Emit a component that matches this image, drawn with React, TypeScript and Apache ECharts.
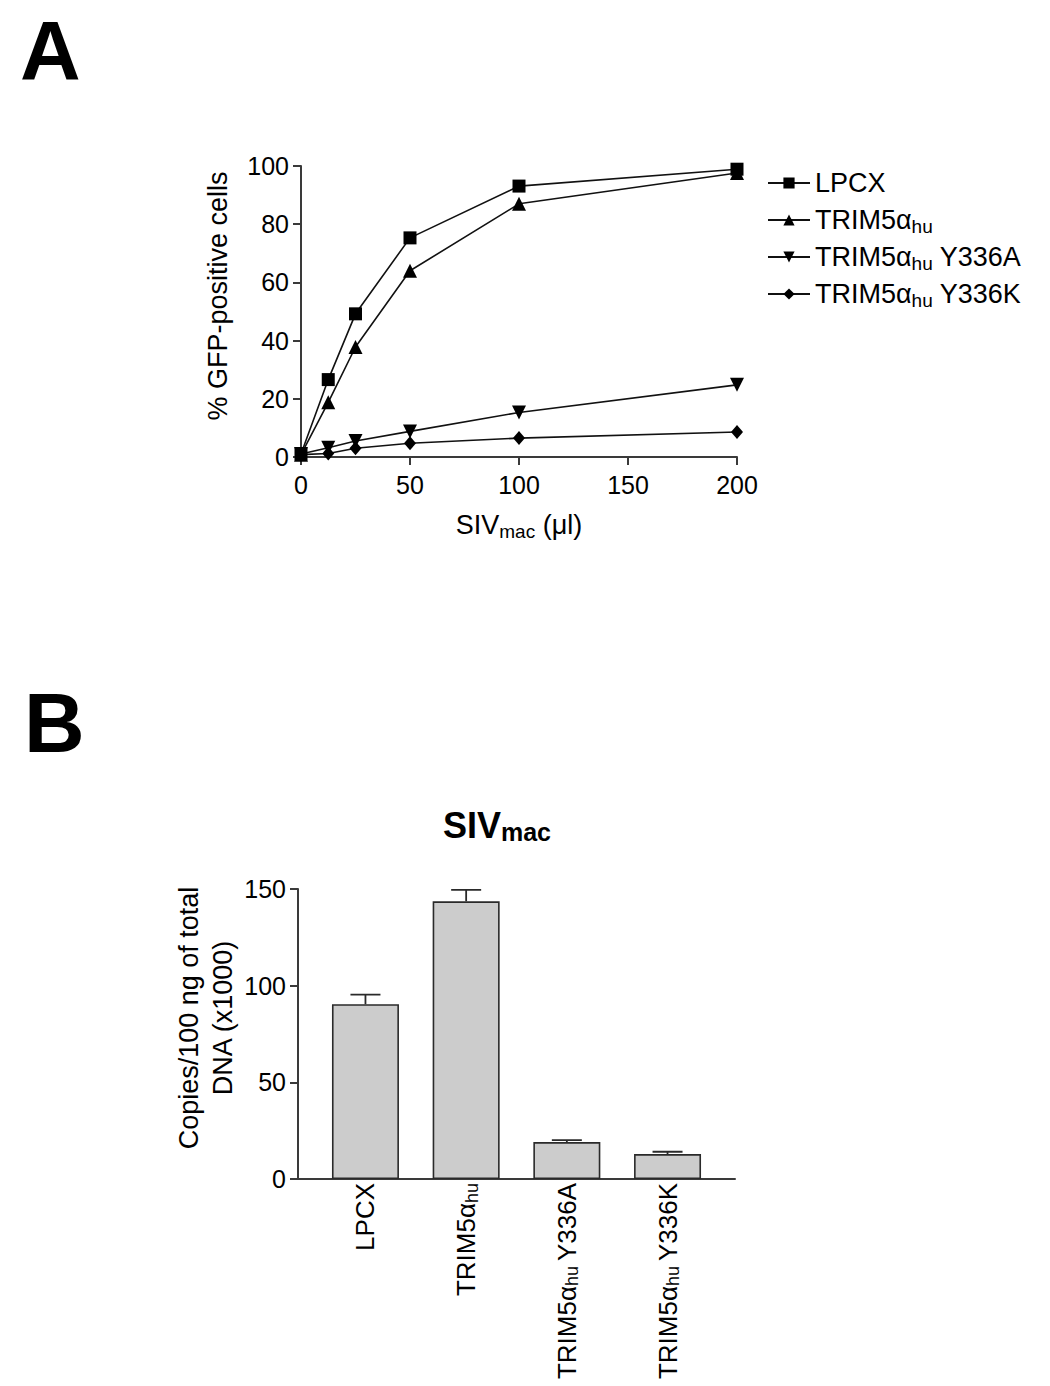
import React, { useEffect, useRef } from "react";
import * as echarts from "echarts";

const FONT = "Liberation Sans, Arial, Helvetica, sans-serif";

// Panel A: dose-response
const doseTicks = [0, 50, 100, 150, 200];
const seriesNames = ["LPCX", "TRIM5αhu", "TRIM5αhu Y336A", "TRIM5αhu Y336K"];
const lpcx: number[][] = [[0, 1], [12.5, 26.6], [25, 49.2], [50, 75.3], [100, 93.1], [200, 98.9]];
const trim: number[][] = [[0, 0.8], [12.5, 18.8], [25, 37.8], [50, 64.0], [100, 87.0], [200, 97.6]];
const y336a: number[][] = [[0, 1], [12.5, 3.2], [25, 5.5], [50, 8.8], [100, 15.3], [200, 24.8]];
const y336k: number[][] = [[0, 0.8], [12.5, 1.2], [25, 3.0], [50, 4.7], [100, 6.5], [200, 8.6]];

// Panel B: bar chart
const barCategories = ["LPCX", "TRIM5αhu", "TRIM5αhu Y336A", "TRIM5αhu Y336K"];
const barMeans = [90.4, 143.6, 19.1, 12.9];
const barUpper = [95.4, 149.5, 20.1, 14.1];

const subName = (n: string) => n.replace("αhu", "α{sub|hu}");
const subNameTight = (n: string) => n.replace("αhu ", "α{sub|hu }").replace("αhu", "α{sub|hu}");

export default function App() {
  const ref = useRef<HTMLDivElement>(null);
  useEffect(() => {
    if (!ref.current) return;
    const chart = echarts.init(ref.current, null, { renderer: "svg" });
    const axisLine = { show: true, onZero: false, lineStyle: { color: "#3a3a3a", width: 2 } };
    const axisTick = { show: true, length: 8, lineStyle: { color: "#3a3a3a", width: 2 } };
    const lineCommon = {
      type: "line",
      xAxisIndex: 0,
      yAxisIndex: 0,
      clip: false,
      lineStyle: { color: "#111", width: 1.6 },
      itemStyle: { color: "#000" },
      z: 3,
    };
    const option: any = {
      animation: false,
      backgroundColor: "#fff",
      textStyle: { fontFamily: FONT, color: "#000" },
      title: {
        text: "SIV{sub|mac}",
        left: 492,
        top: 798,
        textAlign: "center",
        textStyle: {
          fontFamily: FONT,
          fontSize: 36,
          fontWeight: "bold",
          color: "#000",
          lineHeight: 44,
          rich: {
            sub: { fontFamily: FONT, fontSize: 25, fontWeight: "bold", color: "#000", lineHeight: 30, padding: [14, 0, 0, 0] },
          },
        },
      },
      legend: {
        orient: "vertical",
        left: 767,
        top: 167,
        padding: 0,
        itemGap: 5,
        itemWidth: 42,
        itemHeight: 14,
        data: seriesNames,
        formatter: (n: string) => subName(n),
        textStyle: {
          fontFamily: FONT,
          fontSize: 27,
          color: "#000",
          lineHeight: 32,
          rich: {
            sub: { fontFamily: FONT, fontSize: 19, color: "#000", lineHeight: 20, padding: [12, 0, 0, 0] },
          },
        },
      },
      grid: [
        { left: 301, top: 166, width: 436, height: 291, containLabel: false, outerBoundsMode: "none" },
        { left: 298, top: 889, width: 437, height: 290, containLabel: false, outerBoundsMode: "none" },
      ],
      xAxis: [
        {
          gridIndex: 0,
          type: "value",
          min: 0,
          max: 200,
          interval: 50,
          splitLine: { show: false },
          axisLine,
          axisTick,
          axisLabel: { fontFamily: FONT, fontSize: 25, color: "#000", margin: 15, customValues: doseTicks },
          name: "SIV{sub|mac} (μl)",
          nameLocation: "middle",
          nameGap: 52,
          nameTextStyle: {
            fontFamily: FONT,
            fontSize: 27,
            color: "#000",
            lineHeight: 32,
            rich: { sub: { fontFamily: FONT, fontSize: 19, color: "#000", lineHeight: 20, padding: [12, 0, 0, 0] } },
          },
        },
        {
          gridIndex: 1,
          type: "value",
          min: -0.67,
          max: 3.67,
          splitLine: { show: false },
          axisLine,
          axisTick: { show: false },
          axisLabel: {
            customValues: [0, 1, 2, 3],
            rotate: 90,
            margin: 4,
            fontFamily: FONT,
            fontSize: 26,
            color: "#000",
            formatter: (v: number) => subNameTight(barCategories[Math.round(v)] ?? ""),
            rich: { sub: { fontFamily: FONT, fontSize: 18, color: "#000", lineHeight: 18, padding: [11, 0, 0, 0] } },
          },
        },
      ],
      yAxis: [
        {
          gridIndex: 0,
          type: "value",
          min: 0,
          max: 100,
          interval: 20,
          splitLine: { show: false },
          axisLine,
          axisTick,
          axisLabel: { fontFamily: FONT, fontSize: 25, color: "#000", margin: 12 },
          name: "% GFP-positive cells",
          nameLocation: "middle",
          nameGap: 68,
          nameTextStyle: { fontFamily: FONT, fontSize: 27, color: "#000", lineHeight: 30, padding: [0, 0, 0, 31] },
        },
        {
          gridIndex: 1,
          type: "value",
          min: 0,
          max: 150,
          interval: 50,
          splitLine: { show: false },
          axisLine,
          axisTick,
          axisLabel: { fontFamily: FONT, fontSize: 25, color: "#000", margin: 12 },
          name: "Copies/100 ng of total\nDNA (x1000)",
          nameLocation: "middle",
          nameGap: 41,
          nameTextStyle: { fontFamily: FONT, fontSize: 27, color: "#000", lineHeight: 34, padding: [0, 0, 0, 32] },
        },
      ],
      graphic: [
        { type: "text", left: 20, top: 51 - 42, style: { text: "A", font: `bold 84px ${FONT}`, fill: "#000" } },
        { type: "text", left: 24, top: 723 - 42, style: { text: "B", font: `bold 84px ${FONT}`, fill: "#000" } },
      ],
      series: [
        { ...lineCommon, name: seriesNames[0], data: lpcx, symbol: "rect", symbolSize: 13 },
        { ...lineCommon, name: seriesNames[1], data: trim, symbol: "triangle", symbolSize: 14 },
        { ...lineCommon, name: seriesNames[2], data: y336a, symbol: "triangle", symbolSize: 14, symbolRotate: 180 },
        { ...lineCommon, name: seriesNames[3], data: y336k, symbol: "diamond", symbolSize: [12, 14] },
        {
          type: "bar",
          name: "bars",
          xAxisIndex: 1,
          yAxisIndex: 1,
          barWidth: 67,
          data: barMeans.map((v, i) => [i, v]),
          itemStyle: { color: "#cccccc", borderColor: "#2a2a2a", borderWidth: 1.6 },
          z: 2,
        },
        {
          type: "custom",
          name: "errors",
          xAxisIndex: 1,
          yAxisIndex: 1,
          z: 3,
          clip: false,
          encode: { x: 0, y: [1, 2] },
          data: barMeans.map((v, i) => [i, v, barUpper[i]]),
          renderItem: (params: any, api: any) => {
            const x = api.value(0);
            const p1 = api.coord([x, api.value(1)]);
            const p2 = api.coord([x, api.value(2)]);
            return {
              type: "polyline",
              shape: {
                points: [
                  [p1[0], p1[1]],
                  [p2[0], p2[1]],
                  [p2[0] - 15, p2[1]],
                  [p2[0] + 15, p2[1]],
                ],
              },
              style: { stroke: "#2a2a2a", lineWidth: 1.8, fill: "none" },
            };
          },
        },
      ],
    };
    chart.setOption(option);
    return () => chart.dispose();
  }, []);
  return (
    <div
      ref={ref}
      style={{ position: "absolute", left: 0, top: 0, width: 1050, height: 1386, background: "#fff" }}
    />
  );
}
